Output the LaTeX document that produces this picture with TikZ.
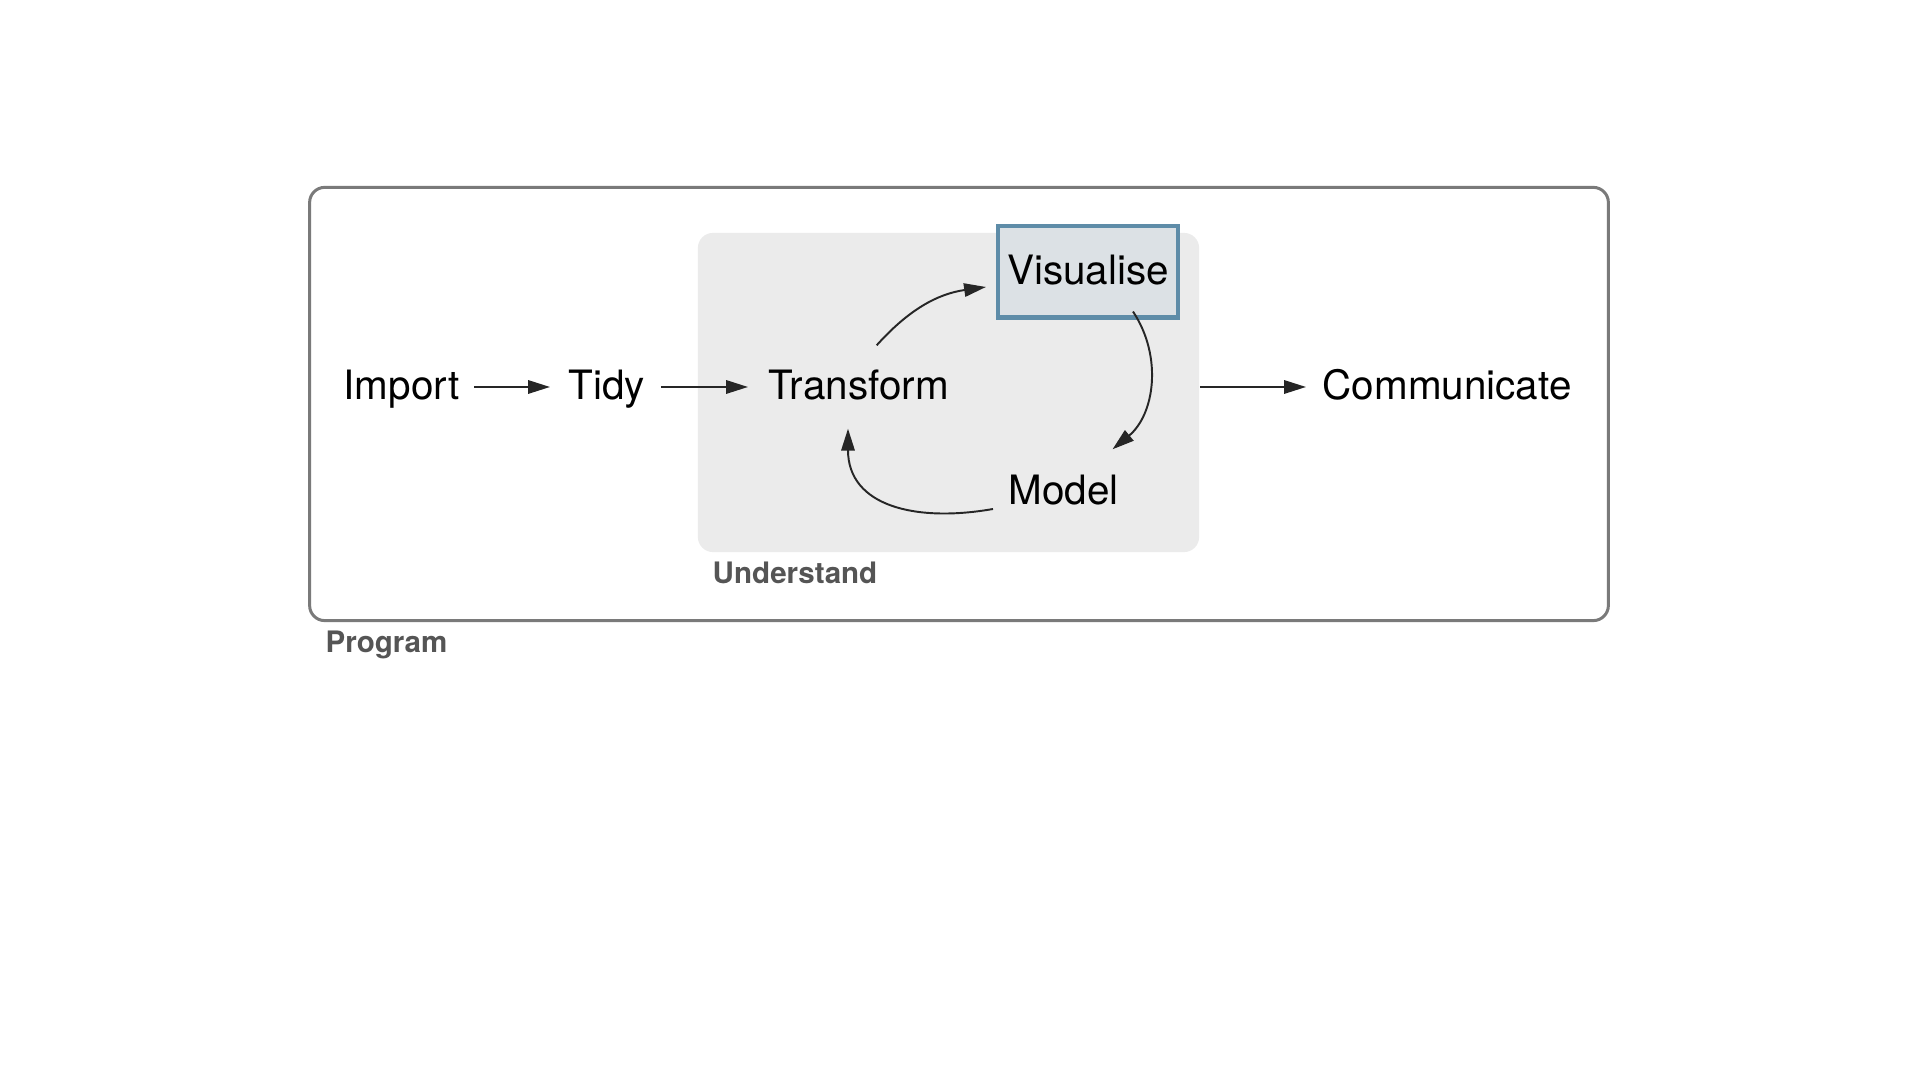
\documentclass[tikz,border=0pt]{standalone}
\usepackage{fontspec}
\setmainfont{TeX Gyre Heros}
\usetikzlibrary{arrows.meta, positioning}

\definecolor{programedge}{HTML}{7A7A7A}
\definecolor{understandfill}{HTML}{EBEBEB}
\definecolor{visfill}{HTML}{DCE1E5}
\definecolor{visedge}{HTML}{5E8CA8}
\definecolor{labelgray}{HTML}{555555}

\begin{document}
\begin{tikzpicture}[x=0.01cm, y=0.01cm, >={Triangle[length=6.2pt, width=3.8pt]},
    stage/.style={font=\fontsize{11.5}{13}\selectfont, inner sep=0pt,
                  text height=0.29cm, text depth=0.03cm},
    grouplabel/.style={font=\bfseries\fontsize{8.4}{10}\selectfont, text=labelgray,
                  inner sep=0pt, anchor=base west},
    flow/.style={->, line width=0.55pt, black!85}]
    % ================= Canvas =================
    % pixel units, origin at top left, y going up (so rows are negative)
    \path[use as bounding box] (0,0) rectangle (1920,-1080);

    % ================= Frames =================
    % Program frame
    \node[draw=programedge, line width=0.85pt, rounded corners=4.3pt,
          minimum width=12.98cm, minimum height=4.33cm] (program) at (959,-404) {};
    % Understand region
    \node[fill=understandfill, rounded corners=4.3pt,
          minimum width=5.01cm, minimum height=3.19cm] (understand) at (948.5,-392.5) {};

    \node[grouplabel] (programlbl) at (325,-653) {Program};
    \node[grouplabel] (understandlbl) at (712,-584) {Understand};

    % ================= Stages =================
    \node[stage, anchor=west] (import) at (343,-387) {Import};
    \node[stage, anchor=west] (tidy) at (568,-387) {Tidy};
    \node[stage, anchor=west] (transform) at (768,-387) {Transform};
    \node[stage, draw=visedge, fill=visfill, line width=1.15pt,
          minimum width=1.80cm, minimum height=0.91cm] (visualise) at (1088,-272) {Visualise};
    \node[stage, anchor=west] (model) at (1008,-492) {Model};
    \node[stage, anchor=west] (communicate) at (1322,-387) {Communicate};

    % ================= Linear flow =================
    \draw[flow, shorten <=0.14cm, shorten >=0.18cm] (import.east) -- (tidy.west);
    \draw[flow, shorten <=0.15cm, shorten >=0.20cm] (tidy.east) -- (transform.west);
    \draw[flow, shorten >=0.16cm] (understand.east |- communicate.west) -- (communicate.west);

    % ================= Understand loop =================
    \draw[flow] ([shift={(18,25)}]transform.north) to[bend left=20]
                ([shift={(-10,-15)}]visualise.west);
    \draw[flow] ([shift={(45,8)}]visualise.south) to[bend left=42]
                ([shift={(-7,26)}]model.north east);
    \draw[flow] ([shift={(-15,-17)}]model.west) to[out=190, in=-90, looseness=1.2]
                ([shift={(80,-25)}]transform.south west);

\end{tikzpicture}
\end{document}
